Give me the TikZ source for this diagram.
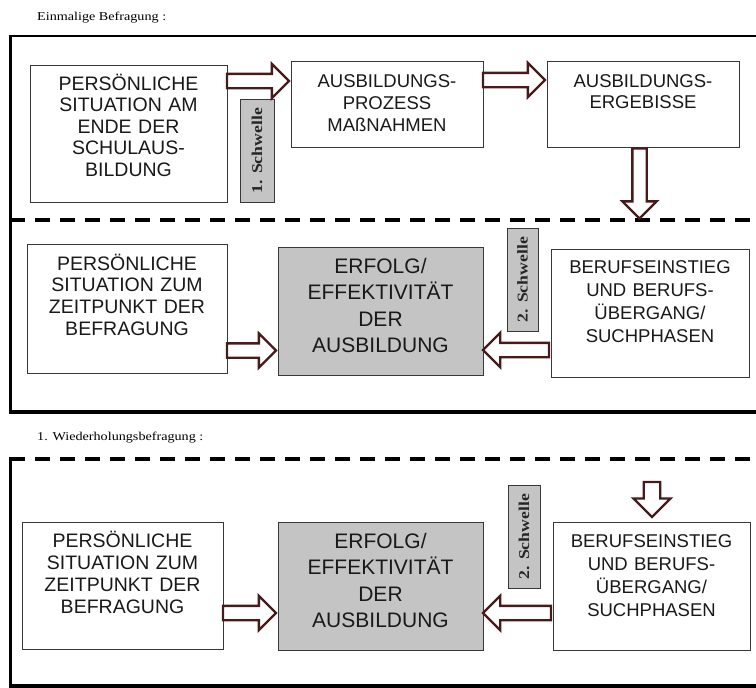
\documentclass[tikz,border=0pt]{standalone}
\usepackage{fontspec}
\usepackage{graphicx}
\setmainfont{Liberation Sans}
\newfontfamily\serifface{Liberation Serif}
\usetikzlibrary{shapes.arrows}
\definecolor{arrowc}{HTML}{4A1A1A}
\definecolor{boxgray}{HTML}{C4C4C4}
\definecolor{edgec}{HTML}{383838}
\tikzset{
  box/.style={draw=edgec, line width=0.9pt, fill=white, inner sep=0pt, outer sep=0pt},
  graybox/.style={box, fill=boxgray},
  txt/.style={anchor=base, inner sep=0pt, text width=#1, align=center, text=black!90},
  barrow/.style={single arrow, draw=arrowc, line width=2.3pt, fill=white,
    inner xsep=0pt, inner ysep=6pt, outer sep=0pt, minimum width=32pt,
    single arrow head extend=10pt,
    single arrow tip angle=90, single arrow head indent=0pt},
  frameline/.style={line width=#1, draw=black},
  dashline/.style={line width=4pt, draw=black, dash pattern=on 15pt off 10pt},
  schwelle/.style={rotate=90, inner sep=0pt, font=\serifface\bfseries\fontsize{15}{15}\selectfont, text=black!85},
  heading/.style={anchor=base west, inner sep=0pt, font=\serifface\fontsize{12}{12}\selectfont}
}
\begin{document}
\begin{tikzpicture}[x=1pt, y=-1pt]
\useasboundingbox (0,0) rectangle (756,688);

% headings
\node[heading] (h1) at (37,20.5) {\scalebox{1.18}[1]{Einmalige Befragung :}};
\node[heading] (h2) at (37,440) {\scalebox{1.18}[1]{1. Wiederholungsbefragung :}};

% frame section 1
\draw[frameline=2.5pt] (8.5,36) -- (756,36);
\draw[frameline=3pt] (10,35) -- (10,413);
\draw[frameline=4pt] (8.5,412) -- (756,412);
\draw[dashline] (10,220) -- (756,220);

% frame section 2
\draw[dashline] (10,459) -- (756,459);
\draw[frameline=3pt] (10,457) -- (10,688);
\draw[frameline=4pt] (8.5,686) -- (756,686);

% section 1 top row
\node[box, minimum width=197pt, minimum height=137pt] (A) at (128.5,133.5) {};
\node[box, minimum width=192pt, minimum height=86pt] (B) at (387,104) {};
\node[box, minimum width=192pt, minimum height=86pt] (C) at (643,104) {};
\node[graybox, minimum width=34pt, minimum height=103pt] (S1) at (257,150.5) {};
\node[schwelle] (S1t) at (S1.center) {\scalebox{1.18}[1]{1. Schwelle}};

\node[txt=195pt, font=\fontsize{19.5}{21.5}\selectfont] (At) at (128.5,90)
  {PERSÖNLICHE\\SITUATION AM\\ENDE DER\\SCHULAUS-\\BILDUNG};
\node[txt=190pt, font=\fontsize{18.5}{22}\selectfont] (Bt) at (387,87)
  {AUSBILDUNGS-\\PROZESS\\MAßNAHMEN};
\node[txt=190pt, font=\fontsize{18.5}{21}\selectfont] (Ct) at (643,87)
  {AUSBILDUNGS-\\ERGEBISSE};

% section 1 bottom row
\node[box, minimum width=200pt, minimum height=129pt] (D1) at (127,308.5) {};
\node[graybox, minimum width=205pt, minimum height=128pt] (E1) at (380.5,311) {};
\node[box, minimum width=198pt, minimum height=128pt] (F1) at (650,313) {};
\node[graybox, minimum width=31pt, minimum height=103pt] (S2) at (522.5,279.5) {};
\node[schwelle] (S2t) at (S2.center) {\scalebox{1.18}[1]{2. Schwelle}};

\node[txt=198pt, font=\fontsize{19.5}{21.7}\selectfont] (D1t) at (127,270)
  {PERSÖNLICHE\\SITUATION ZUM\\ZEITPUNKT DER\\BEFRAGUNG};
\node[txt=200pt, font=\fontsize{21}{26.5}\selectfont] (E1t) at (380.5,273)
  {ERFOLG/\\EFFEKTIVITÄT\\DER\\AUSBILDUNG};
\node[txt=195pt, font=\fontsize{18.5}{23}\selectfont] (F1t) at (650,273)
  {BERUFSEINSTIEG\\UND BERUFS-\\ÜBERGANG/\\SUCHPHASEN};

% section 2
\node[box, minimum width=201pt, minimum height=127pt] (D2) at (122.5,585.5) {};
\node[graybox, minimum width=205pt, minimum height=128pt] (E2) at (380.5,586) {};
\node[box, minimum width=197pt, minimum height=128pt] (F2) at (651.5,586) {};
\node[graybox, minimum width=32pt, minimum height=103pt] (S3) at (524,536.5) {};
\node[schwelle] (S3t) at (S3.center) {\scalebox{1.18}[1]{2. Schwelle}};

\node[txt=198pt, font=\fontsize{19.5}{22}\selectfont] (D2t) at (122.5,547)
  {PERSÖNLICHE\\SITUATION ZUM\\ZEITPUNKT DER\\BEFRAGUNG};
\node[txt=200pt, font=\fontsize{21}{26.5}\selectfont] (E2t) at (380.5,548)
  {ERFOLG/\\EFFEKTIVITÄT\\DER\\AUSBILDUNG};
\node[txt=195pt, font=\fontsize{18.5}{23}\selectfont] (F2t) at (651.5,547)
  {BERUFSEINSTIEG\\UND BERUFS-\\ÜBERGANG/\\SUCHPHASEN};

% block arrows
\node[barrow, minimum height=62pt, anchor=tail] (a1) at ([yshift=52.5pt]A.east) {};
\node[barrow, minimum height=62pt, anchor=tail] (a2) at ([yshift=24pt]B.east) {};
\node[barrow, minimum height=70pt, anchor=tail, rotate=-90] (a3) at ([xshift=-3.5pt,yshift=-1.5pt]C.south) {};
\node[barrow, minimum height=49pt, anchor=tail] (a4) at ([yshift=-42pt]D1.east) {};
\node[barrow, minimum height=66pt, anchor=tail, rotate=180] (a5) at ([yshift=-37pt,xshift=-2pt]F1.west) {};
\node[barrow, minimum height=53pt, anchor=tail] (a6) at ([yshift=-27.5pt]D2.east) {};
\node[barrow, minimum height=68pt, anchor=tail, rotate=180] (a7) at ([yshift=-27pt,xshift=-2pt]F2.west) {};
\node[barrow, minimum height=35pt, minimum width=37pt, inner ysep=7pt, anchor=tip, rotate=-90] (a8) at ([xshift=0.5pt,yshift=5pt]F2.north) {};
\end{tikzpicture}
\end{document}
